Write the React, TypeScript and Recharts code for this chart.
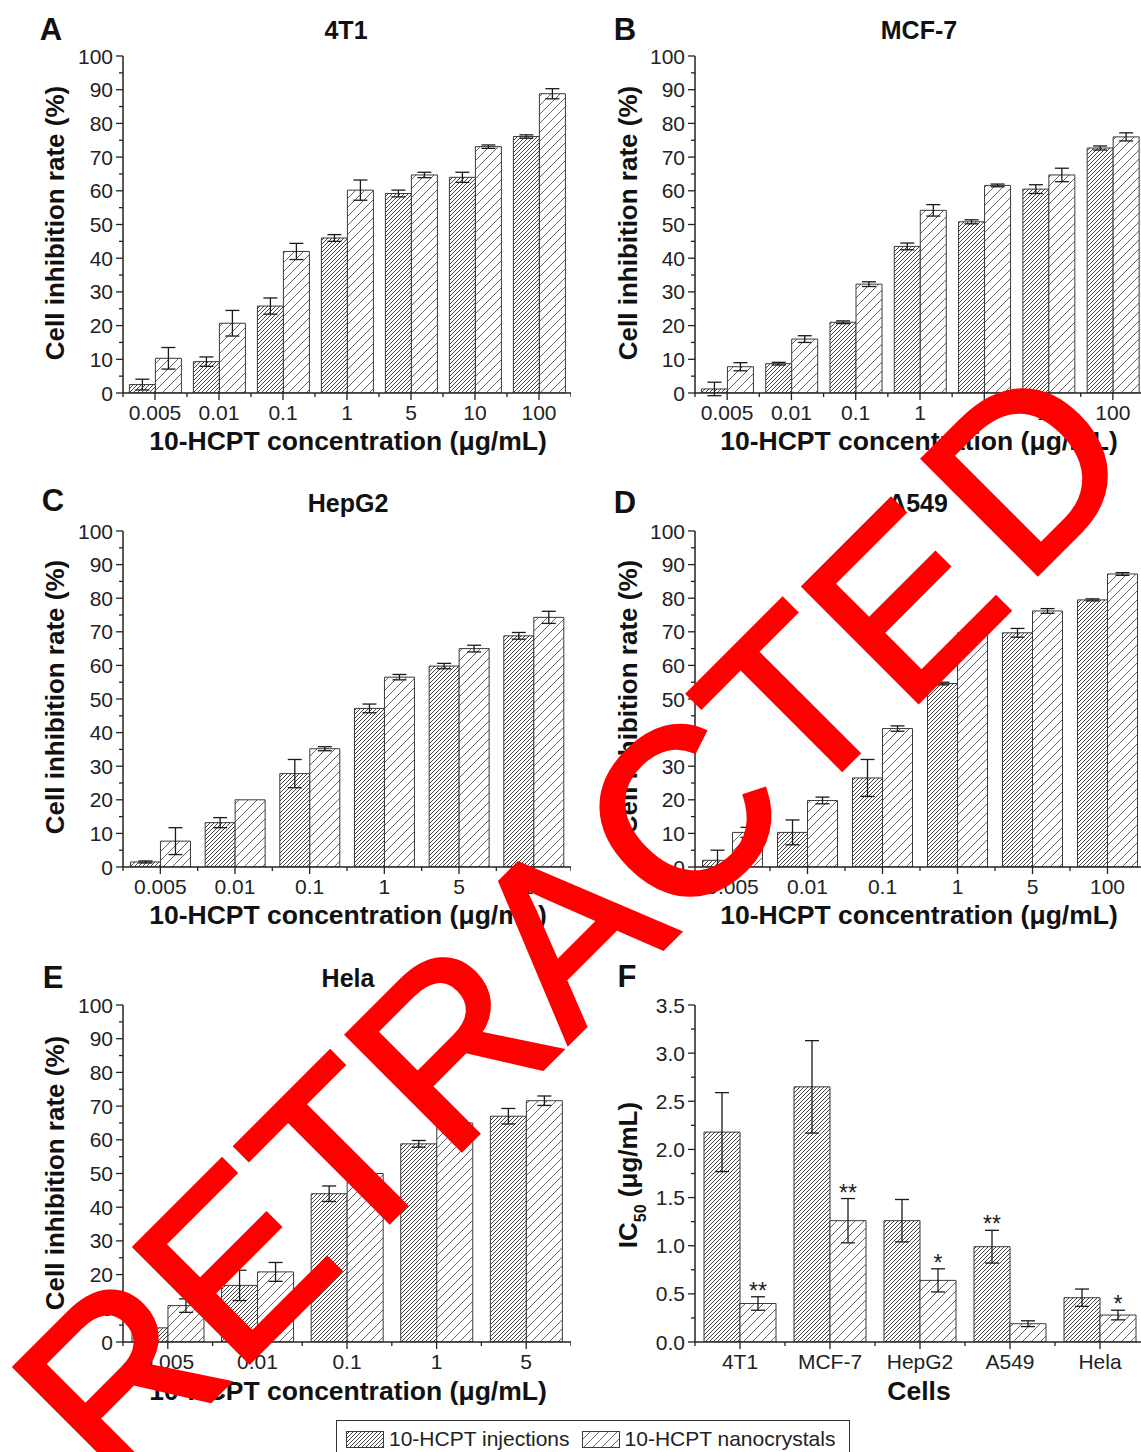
import React from "react";
import { BarChart, Bar, XAxis, YAxis, ErrorBar, LabelList } from "recharts";

const FONT = "'Liberation Sans', Arial, Helvetica, sans-serif";
const INK = "#222";

// ---- data ----
const conc7 = ["0.005", "0.01", "0.1", "1", "5", "10", "100"];
const concC = ["0.005", "0.01", "0.1", "1", "5", "10"];
const concD = ["0.005", "0.01", "0.1", "1", "5", "100"];
const concE = ["0.005", "0.01", "0.1", "1", "5"];
const cells = ["4T1", "MCF-7", "HepG2", "A549", "Hela"];

// A: 4T1
const injA = [2.5, 9.3, 25.8, 46.0, 59.2, 64.0, 76.1];
const injAErr = [1.6, 1.4, 2.4, 1.0, 1.0, 1.5, 0.5];
const nanoA = [10.3, 20.7, 42.0, 60.2, 64.7, 73.1, 88.8];
const nanoAErr = [3.2, 3.8, 2.4, 3.0, 0.8, 0.5, 1.5];

// B: MCF-7
const injB = [1.2, 8.7, 21.0, 43.5, 50.8, 60.5, 72.7];
const injBErr = [2.0, 0.4, 0.4, 1.0, 0.6, 1.3, 0.6];
const nanoB = [7.8, 16.0, 32.3, 54.2, 61.6, 64.7, 76.0];
const nanoBErr = [1.2, 1.0, 0.7, 1.7, 0.4, 2.0, 1.2];

// C: HepG2
const injC = [1.5, 13.2, 27.8, 47.2, 59.8, 68.8];
const injCErr = [0.3, 1.5, 4.2, 1.3, 0.8, 1.0];
const nanoC = [7.7, 20.0, 35.2, 56.5, 65.0, 74.3];
const nanoCErr = [4.0, 0, 0.6, 0.8, 1.0, 1.8];

// D: A549
const injD = [2.0, 10.3, 26.5, 54.6, 69.7, 79.5];
const injDErr = [3.0, 3.7, 5.5, 0.4, 1.3, 0.3];
const nanoD = [10.3, 19.8, 41.2, 69.7, 76.2, 87.2];
const nanoDErr = [1.5, 1.0, 0.8, 0.8, 0.7, 0.4];

// E: Hela
const injE = [4.2, 16.8, 44.0, 58.8, 67.0];
const injEErr = [0.8, 4.5, 2.3, 1.0, 2.3];
const nanoE = [10.8, 20.8, 50.0, 65.0, 71.6];
const nanoEErr = [2.0, 2.8, 1.0, 1.0, 1.4];

// F: IC50
const injF = [2.18, 2.65, 1.26, 0.99, 0.46];
const injFErr = [0.41, 0.48, 0.22, 0.17, 0.09];
const nanoF = [0.4, 1.26, 0.64, 0.19, 0.28];
const nanoFErr = [0.07, 0.23, 0.12, 0.03, 0.05];
const sigInjF = ["", "", "", "**", ""];
const sigNanoF = ["**", "**", "*", "", "*"];

const pctTicks = [0, 5, 10, 15, 20, 25, 30, 35, 40, 45, 50, 55, 60, 65, 70, 75, 80, 85, 90, 95, 100];
const icTicks = [0, 0.25, 0.5, 0.75, 1, 1.25, 1.5, 1.75, 2, 2.25, 2.5, 2.75, 3, 3.25, 3.5];

type Row = {
  name: string;
  inj: number;
  injErr: number;
  nano: number;
  nanoErr: number;
  sigInj: string;
  sigNano: string;
};

function makeRows(
  names: string[],
  inj: number[],
  injErr: number[],
  nano: number[],
  nanoErr: number[],
  sigInj?: string[],
  sigNano?: string[]
): Row[] {
  return names.map((name, i) => ({
    name,
    inj: inj[i],
    injErr: injErr[i],
    nano: nano[i],
    nanoErr: nanoErr[i],
    sigInj: sigInj ? sigInj[i] : "",
    sigNano: sigNano ? sigNano[i] : "",
  }));
}

function YTick(props: any) {
  const { x, y, payload, step, fmt } = props;
  const v = payload.value as number;
  const major = Math.abs(v / step - Math.round(v / step)) < 1e-6;
  return (
    <g>
      <line x1={x} x2={x - (major ? 7 : 4)} y1={y} y2={y} stroke={INK} strokeWidth={1.3} />
      {major && (
        <text x={x - 10} y={y} dy="0.36em" textAnchor="end" fontSize={21} fill={INK} fontFamily={FONT}>
          {fmt(v)}
        </text>
      )}
    </g>
  );
}

function XTick(props: any) {
  const { x, y, payload, index, band } = props;
  return (
    <g stroke={INK} strokeWidth={1.3}>
      <line x1={x} x2={x} y1={y} y2={y + 7} />
      <line x1={x + band / 2} x2={x + band / 2} y1={y} y2={y + 4} />
      {index === 0 && <line x1={x - band / 2} x2={x - band / 2} y1={y} y2={y + 4} />}
      <text x={x} y={y + 27} textAnchor="middle" fontSize={21} fill={INK} stroke="none" fontFamily={FONT}>
        {payload.value}
      </text>
    </g>
  );
}

const sigLabel = (rows: Row[], valKey: "inj" | "nano", errKey: "injErr" | "nanoErr") => (props: any) => {
  const { index, value } = props;
  if (!value) return null;
  const vb = props.viewBox && props.viewBox.height != null ? props.viewBox : props;
  const row = rows[index];
  const perUnit = Math.abs(vb.height) / row[valKey];
  const top = Math.min(vb.y, vb.y + vb.height) - row[errKey] * perUnit;
  return (
    <text x={vb.x + vb.width / 2} y={top + 2} textAnchor="middle" fontSize={23} fill={INK} fontFamily={FONT}>
      {value}
    </text>
  );
};

type PanelProps = {
  rows: Row[];
  colX: number;
  plotRight: number;
  plotTop: number;
  plotBottom: number;
  domain: [number, number];
  ticks: number[];
  step: number;
  fmt: (v: number) => string;
  sig?: boolean;
};

function Panel({ rows, colX, plotRight, plotTop, plotBottom, domain, ticks, step, fmt, sig }: PanelProps) {
  const yAxisW = 123;
  const padTop = 14;
  const xAxisH = 40;
  const width = plotRight - colX;
  const height = plotBottom - plotTop + padTop + xAxisH;
  const band = (width - yAxisW) / rows.length;
  return (
    <div style={{ position: "absolute", left: colX, top: plotTop - padTop }}>
      <BarChart
        width={width}
        height={height}
        data={rows}
        margin={{ top: padTop, right: 0, bottom: 0, left: 0 }}
        barCategoryGap="10%"
        barGap={0}
      >
        <XAxis
          dataKey="name"
          height={xAxisH}
          interval={0}
          tickSize={0}
          tickMargin={0}
          tickLine={false}
          axisLine={{ stroke: INK, strokeWidth: 1.5 }}
          tick={(p: any) => <XTick {...p} band={band} />}
        />
        <YAxis
          type="number"
          width={yAxisW}
          domain={domain}
          ticks={ticks}
          interval={0}
          allowDataOverflow
          tickSize={0}
          tickMargin={0}
          tickLine={false}
          axisLine={{ stroke: INK, strokeWidth: 1.5 }}
          tick={(p: any) => <YTick {...p} step={step} fmt={fmt} />}
        />
        <Bar dataKey="inj" fill="url(#hatchDense)" stroke="#3a3a3a" strokeWidth={1} isAnimationActive={false}>
          <ErrorBar dataKey="injErr" width={7} stroke="#1a1a1a" strokeWidth={1.3} />
          {sig && <LabelList dataKey="sigInj" content={sigLabel(rows, "inj", "injErr")} />}
        </Bar>
        <Bar dataKey="nano" fill="url(#hatchSparse)" stroke="#3a3a3a" strokeWidth={1} isAnimationActive={false}>
          <ErrorBar dataKey="nanoErr" width={7} stroke="#1a1a1a" strokeWidth={1.3} />
          {sig && <LabelList dataKey="sigNano" content={sigLabel(rows, "nano", "nanoErr")} />}
        </Bar>
      </BarChart>
    </div>
  );
}

const pct = (v: number) => String(v);
const ic = (v: number) => v.toFixed(1);

function Titles() {
  const bold = { fontFamily: FONT, fontWeight: 700, fill: "#111" } as const;
  const letters: [string, number, number][] = [
    ["A", 51, 29],
    ["B", 625, 29],
    ["C", 53, 500],
    ["D", 625, 502],
    ["E", 53, 977],
    ["F", 627, 976],
  ];
  const names: [string, number, number][] = [
    ["4T1", 346, 30],
    ["MCF-7", 919, 30],
    ["HepG2", 348, 503],
    ["A549", 918, 503],
    ["Hela", 348, 978],
  ];
  const xTitles: [string, number, number][] = [
    ["10-HCPT concentration (μg/mL)", 348, 440],
    ["10-HCPT concentration (μg/mL)", 919, 440],
    ["10-HCPT concentration (μg/mL)", 348, 914],
    ["10-HCPT concentration (μg/mL)", 919, 914],
    ["10-HCPT concentration (μg/mL)", 348, 1390],
    ["Cells", 919, 1390],
  ];
  const yTitles: [number, number][] = [
    [55, 223],
    [628, 223],
    [55, 697],
    [628, 697],
    [55, 1173],
  ];
  return (
    <svg width={1141} height={1452} style={{ position: "absolute", left: 0, top: 0, pointerEvents: "none" }}>
      {letters.map(([t, x, y]) => (
        <text key={t} x={x} y={y} dy="0.36em" textAnchor="middle" fontSize={31} {...bold}>
          {t}
        </text>
      ))}
      {names.map(([t, x, y]) => (
        <text key={t} x={x} y={y} dy="0.36em" textAnchor="middle" fontSize={25} {...bold}>
          {t}
        </text>
      ))}
      {xTitles.map(([t, x, y], i) => (
        <text key={i} x={x} y={y} dy="0.36em" textAnchor="middle" fontSize={26.5} {...bold}>
          {t}
        </text>
      ))}
      {yTitles.map(([x, y], i) => (
        <text
          key={i}
          x={x}
          y={y}
          dy="0.36em"
          textAnchor="middle"
          fontSize={26}
          transform={`rotate(-90 ${x} ${y})`}
          {...bold}
        >
          Cell inhibition rate (%)
        </text>
      ))}
      <text x={628} y={1175} dy="0.36em" textAnchor="middle" fontSize={26} transform="rotate(-90 628 1175)" {...bold}>
        <tspan>IC</tspan>
        <tspan fontSize={16} baselineShift="sub">
          50
        </tspan>
        <tspan> (μg/mL)</tspan>
      </text>
    </svg>
  );
}

function Legend() {
  const sw = (id: string) => (
    <svg width={38} height={17} style={{ display: "block" }}>
      <rect x={0.5} y={0.5} width={37} height={16} fill={`url(#${id})`} stroke="#3a3a3a" strokeWidth={1} />
    </svg>
  );
  return (
    <div
      style={{
        position: "absolute",
        left: 336,
        top: 1420,
        width: 514,
        height: 40,
        border: "1.5px solid #333",
        boxSizing: "border-box",
        display: "flex",
        alignItems: "flex-start",
        paddingTop: 10,
        paddingLeft: 9,
        fontFamily: FONT,
        fontSize: 21,
        color: INK,
        whiteSpace: "nowrap",
      }}
    >
      {sw("hatchDense")}
      <span style={{ marginLeft: 5, marginTop: -4 }}>10-HCPT injections</span>
      <span style={{ marginLeft: 12 }}>{sw("hatchSparse")}</span>
      <span style={{ marginLeft: 5, marginTop: -4 }}>10-HCPT nanocrystals</span>
    </div>
  );
}

export default function App() {
  const rowsA = makeRows(conc7, injA, injAErr, nanoA, nanoAErr);
  const rowsB = makeRows(conc7, injB, injBErr, nanoB, nanoBErr);
  const rowsC = makeRows(concC, injC, injCErr, nanoC, nanoCErr);
  const rowsD = makeRows(concD, injD, injDErr, nanoD, nanoDErr);
  const rowsE = makeRows(concE, injE, injEErr, nanoE, nanoEErr);
  const rowsF = makeRows(cells, injF, injFErr, nanoF, nanoFErr, sigInjF, sigNanoF);

  const pctProps = { domain: [0, 100] as [number, number], ticks: pctTicks, step: 10, fmt: pct };

  return (
    <div
      style={{
        position: "absolute",
        left: 0,
        top: 0,
        width: 1141,
        height: 1452,
        overflow: "hidden",
        background: "#fff",
        fontFamily: FONT,
      }}
    >
      <svg width={0} height={0} style={{ position: "absolute" }}>
        <defs>
          <pattern id="hatchDense" patternUnits="userSpaceOnUse" width={4} height={4}>
            <rect width={4} height={4} fill="#fff" />
            <path d="M-1,1 L1,-1 M0,4 L4,0 M3,5 L5,3" stroke="#444" strokeWidth={1} />
          </pattern>
          <pattern id="hatchSparse" patternUnits="userSpaceOnUse" width={9} height={9}>
            <rect width={9} height={9} fill="#fff" />
            <path d="M-1,1 L1,-1 M0,9 L9,0 M8,10 L10,8" stroke="#555" strokeWidth={0.9} />
          </pattern>
        </defs>
      </svg>

      <Panel rows={rowsA} colX={0} plotRight={571} plotTop={56} plotBottom={393} {...pctProps} />
      <Panel rows={rowsB} colX={572} plotRight={1145} plotTop={56} plotBottom={393} {...pctProps} />
      <Panel rows={rowsC} colX={0} plotRight={571} plotTop={531} plotBottom={867} {...pctProps} />
      <Panel rows={rowsD} colX={572} plotRight={1145} plotTop={531} plotBottom={867} {...pctProps} />
      <Panel rows={rowsE} colX={0} plotRight={571} plotTop={1005} plotBottom={1342} {...pctProps} />
      <Panel
        rows={rowsF}
        colX={572}
        plotRight={1145}
        plotTop={1005}
        plotBottom={1342}
        domain={[0, 3.5]}
        ticks={icTicks}
        step={0.5}
        fmt={ic}
        sig
      />

      <Titles />
      <Legend />

      <svg width={1141} height={1452} style={{ position: "absolute", left: 0, top: 0, pointerEvents: "none" }}>
        <text
          x={116}
          y={1495}
          transform="rotate(-45 116 1495)"
          textAnchor="start"
          fontSize={235}
          fill="#ff0000"
          stroke="#ff0000"
          strokeWidth={5}
          strokeLinejoin="miter"
          fontFamily={FONT}
        >
          <tspan>RETRACT</tspan>
          <tspan dy={6}>E</tspan>
          <tspan dx={18} dy={-6}>
            D
          </tspan>
        </text>
      </svg>
    </div>
  );
}
